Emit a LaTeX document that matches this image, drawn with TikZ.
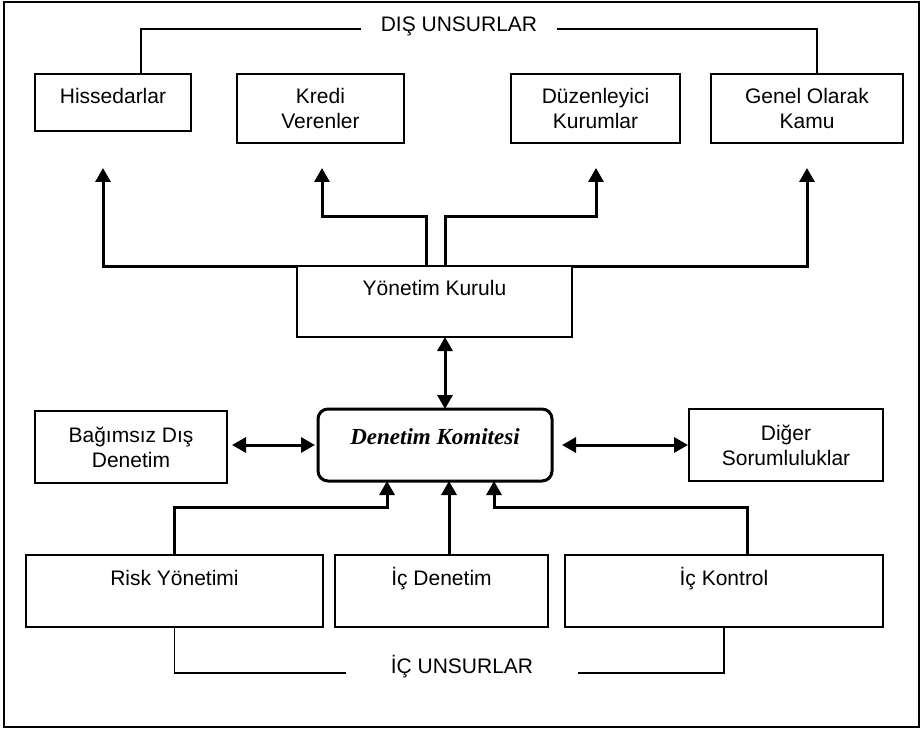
\documentclass[tikz,border=0pt]{standalone}
\usepackage{fontspec}
\setmainfont{Liberation Sans}
\newfontfamily\komfont{Liberation Serif}
\usetikzlibrary{arrows.meta}
\begin{document}
\begin{tikzpicture}[x=1pt,y=-1pt,
  every node/.style={font=\fontsize{21}{25}\selectfont},
  box/.style={draw, line width=1.8pt, outer sep=0pt, inner sep=0pt, align=center},
  keybox/.style={draw, line width=3pt, rounded corners=10pt, outer sep=0pt, inner sep=0pt},
  flow/.style={line width=3pt, -{Triangle[length=14pt,width=15pt]}},
  both/.style={line width=3pt, {Triangle[length=14pt,width=15pt]}-{Triangle[length=14pt,width=15pt]}},
  bracket/.style={line width=1.5pt},
  tag/.style={inner sep=0pt, anchor=base}
]
% page and frame
\fill[white] (0,0) rectangle (921,730);
\path[use as bounding box] (0,0) rectangle (921,730);
\draw[line width=2pt] (4,2) rectangle (919,727);

% external parties
\node[box, minimum width=156, minimum height=57,
  label={[anchor=base,yshift=-30pt]north:Hissedarlar}] (hiss) at (113,102.5) {};
\node[box, minimum width=167, minimum height=69] (kredi) at (320.5,108.5) {Kredi\\Verenler};
\node[box, minimum width=169, minimum height=69] (duz) at (595.5,108.5) {Düzenleyici\\Kurumlar};
\node[box, minimum width=192, minimum height=69] (genel) at (807,108.5) {Genel Olarak\\Kamu};
\node[tag, inner xsep=20pt] (dis) at (459,32) {DIŞ UNSURLAR};

% board and committee
\node[box, minimum width=275, minimum height=71,
  label={[anchor=base,yshift=-29pt]north:Yönetim Kurulu}] (yk) at (434.5,301.5) {};
\node[keybox, minimum width=234, minimum height=72,
  label={[anchor=base,yshift=-35pt,font=\komfont\bfseries\itshape\fontsize{23}{27}\selectfont]north:Denetim Komitesi}] (dk) at (435,445) {};
\node[box, minimum width=192, minimum height=72] (bd) at (131,447) {Bağımsız Dış\\Denetim};
\node[box, minimum width=194, minimum height=72] (dg) at (786,445) {Diğer\\Sorumluluklar};

% internal parties
\node[box, minimum width=297, minimum height=72,
  label={[anchor=base,yshift=-30pt]north:Risk Yönetimi}] (risk) at (174.5,591) {};
\node[box, minimum width=213, minimum height=72,
  label={[anchor=base,yshift=-30pt]north:İç Denetim}] (icd) at (441.5,591) {};
\node[box, minimum width=318, minimum height=72,
  label={[anchor=base,yshift=-30pt]north:İç Kontrol}] (ick) at (724,591) {};
\node[tag, inner xsep=45pt] (icu) at (462,673) {İÇ UNSURLAR};

% routing columns
\coordinate (colH) at (103,168);
\coordinate (colK) at (322,168);
\coordinate (colD) at (596,168);
\coordinate (colG) at (807,168);
\coordinate (colK2) at (426,217);
\coordinate (colD2) at (445,217);
\coordinate (colR) at (387,0);
\coordinate (colM) at (449,0);
\coordinate (colC) at (494,0);
\coordinate (colC2) at (747,0);
\coordinate (colL) at (141,0);
\coordinate (colT) at (817,0);

% board to external parties
\draw[flow] (yk.north west) -| (colH);
\draw[flow] (yk.north -| colK2) -- (colK2) -| (colK);
\draw[flow] (yk.north -| colD2) -- (colD2) -| (colD);
\draw[flow] (yk.north east) -| (colG);

% committee links
\draw[both] (yk.south -| colD2) -- (dk.north -| colD2);
\draw[both, shorten <=5pt, shorten >=3pt] (bd.east |- dk.west) -- (dk.west);
\draw[both, shorten <=10pt, shorten >=1pt] (dk.east) -- (dg.west);

% internal parties to committee
\draw[flow] (risk.north) -- ++(0,-48) -| (dk.south -| colR);
\draw[flow] (icd.north -| colM) -- (dk.south -| colM);
\draw[flow] (ick.north -| colC2) -- ++(0,-48) -| (dk.south -| colC);

% group brackets
\draw[bracket] (hiss.north -| colL) |- ([yshift=3pt]dis.base west);
\draw[bracket] ([yshift=3pt]dis.base east) -| (genel.north -| colT);
\draw[bracket] (risk.south) |- (icu.base west);
\draw[bracket] (icu.base east) -| (ick.south);
\end{tikzpicture}
\end{document}
